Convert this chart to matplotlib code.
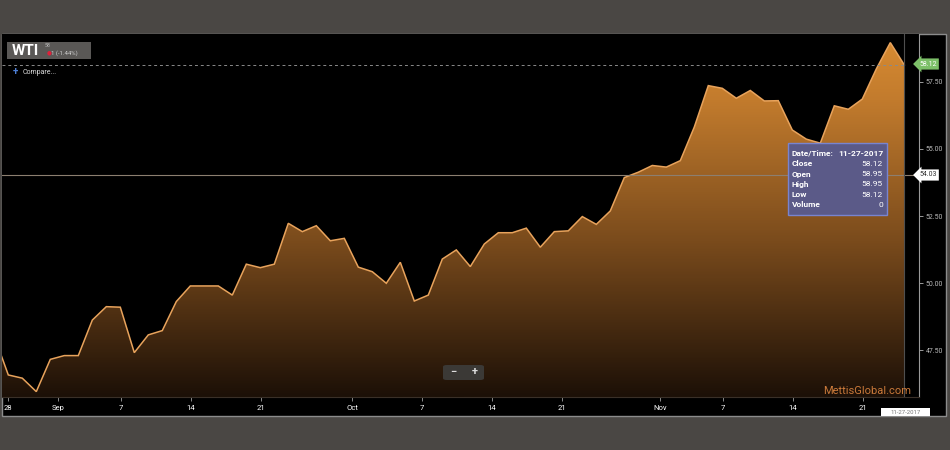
import numpy as np
import pandas as pd
import matplotlib
matplotlib.use("Agg")
import matplotlib.pyplot as plt
from matplotlib.patches import Rectangle, FancyBboxPatch, Polygon
from matplotlib.colors import LinearSegmentedColormap

# ---------------- data ----------------
holidays = ["2017-11-23"]
dates = [d for d in pd.bdate_range("2017-08-25", "2017-11-27") if d.strftime("%Y-%m-%d") not in holidays]
close = [48.03, 46.59, 46.47, 45.97, 47.17, 47.31, 47.31, 48.63, 49.13, 49.11,
         47.42, 48.08, 48.24, 49.32, 49.90, 49.90, 49.90, 49.56, 50.71, 50.58,
         50.71, 52.23, 51.92, 52.14, 51.58, 51.67, 50.60, 50.43, 50.00, 50.78,
         49.34, 49.56, 50.90, 51.24, 50.62, 51.46, 51.88, 51.88, 52.05, 51.34,
         51.92, 51.95, 52.48, 52.19, 52.69, 53.93, 54.13, 54.38, 54.32, 54.56,
         55.81, 57.35, 57.25, 56.88, 57.17, 56.78, 56.79, 55.70, 55.36, 55.21,
         56.60, 56.47, 56.85, 57.97, 58.95, 58.12]
cursor_price = 54.03
xtick_labels = ["28", "Sep", "7", "14", "21", "Oct", "7", "14", "21", "Nov", "7", "14", "21"]
ytick_values = [47.5, 50.0, 52.5, 55.0, 57.5]
tooltip_labels = ["Date/Time:", "Close", "Open", "High", "Low", "Volume"]
tooltip_values = ["11-27-2017", "58.12", "58.95", "58.95", "58.12", "0"]
symbol = "WTI"
symbol_last = "58"
symbol_change = "1 (-1.44%)"

# ---------------- layout helpers ----------------
W, H = 950, 450
plt.rcParams["font.family"] = ["Roboto", "DejaVu Sans"]
fig = plt.figure(figsize=(W / 100, H / 100), dpi=100, facecolor="#4a4744")


def fx(x):
    return x / W


def fy(y):
    return 1 - y / H


# black panel with thin grey frame
fig.add_artist(Rectangle((fx(2), fy(416)), fx(944), (416 - 34) / H, transform=fig.transFigure,
                         facecolor="black", edgecolor="#8c8c8c", linewidth=1.0, zorder=0))

ax = fig.add_axes([fx(2), fy(397), fx(919 - 2), (397 - 34) / H])
ax.set_facecolor("black")

idx = np.arange(len(close))
xmin, xmax = 0.55, 66.05
ymin, ymax = 45.77, 59.27
ax.set_xlim(xmin, xmax)
ax.set_ylim(ymin, ymax)

# gradient fill under the line
cmap = LinearSegmentedColormap.from_list(
    "oil", [(0.0, "#1c1007"), (0.43, "#7a4b1c"), (0.82, "#c27b2d"), (1.0, "#d98c32")])
grad = np.linspace(1, 0, 400).reshape(-1, 1)
im = ax.imshow(grad, cmap=cmap, extent=[xmin, xmax, ymin, ymax], aspect="auto",
               origin="upper", zorder=1, vmin=0, vmax=1)
verts = [(idx[0], ymin)] + list(zip(idx, close)) + [(idx[-1], ymin)]
poly = Polygon(verts, closed=True, facecolor="none", edgecolor="none", transform=ax.transData)
ax.add_patch(poly)
im.set_clip_path(poly)
ax.plot(idx, close, color="#e8a35c", lw=1.1, zorder=3, solid_joinstyle="miter")

# cursor lines
ax.hlines(close[-1], xmin, idx[-1], colors="#8a8a8a", linestyles=(0, (3, 3)), lw=0.7, zorder=4)
ax.axhline(cursor_price, color="#8c7f70", lw=0.8, zorder=4)
ax.axvline(idx[-1], color="#4f4f4f", lw=0.8, zorder=4)

# axes styling
for s in ["left", "top"]:
    ax.spines[s].set_visible(False)
ax.spines["right"].set_color("#9a9a9a")
ax.spines["right"].set_linewidth(0.8)
ax.spines["bottom"].set_color("#3a3028")
ax.spines["bottom"].set_linewidth(0.8)

xtick_pos = [1, 4.57, 9.05, 14.05, 19.05, 25.55, 30.55, 35.55, 40.55, 47.55, 52.05, 57.05, 62.05]
ax.set_xticks(xtick_pos)
ax.set_xticklabels(xtick_labels)
ax.tick_params(axis="x", colors="#8a8a8a", labelcolor="white", labelsize=5.5, length=3, width=0.7, pad=3)
ax.yaxis.tick_right()
ax.set_yticks(ytick_values)
ax.set_yticklabels([f"{v:.2f}" for v in ytick_values])
ax.tick_params(axis="y", colors="#9a9a9a", labelcolor="#b8b8b8", labelsize=5, length=3, width=0.7, pad=2)

# right-side price labels
fig.text(fx(928), fy(64), f"{close[-1]:.2f}", fontsize=5, color="white", ha="center", va="center",
         bbox=dict(boxstyle="larrow,pad=0.3", fc="#7cbf68", ec="none"), zorder=10)
fig.text(fx(928), fy(175), f"{cursor_price:.2f}", fontsize=5, color="#333", ha="center", va="center",
         bbox=dict(boxstyle="larrow,pad=0.3", fc="white", ec="none"), zorder=10)
# date label at bottom
fig.add_artist(Rectangle((fx(880.7), fy(415.7)), fx(49.3), 7.4 / H, transform=fig.transFigure,
                         facecolor="white", edgecolor="none", zorder=10))
fig.text(fx(905.3), fy(412), tooltip_values[0], fontsize=4.3, color="#777", ha="center", va="center", zorder=11)

# symbol box
fig.add_artist(Rectangle((fx(7.3), fy(59.3)), fx(83.4), 17.6 / H, transform=fig.transFigure,
                         facecolor="#5a5856", edgecolor="none", zorder=5))
fig.text(fx(12), fy(51), symbol, fontsize=11, fontweight="bold", color="white", va="center", ha="left", zorder=6)
fig.text(fx(45), fy(45.5), symbol_last, fontsize=3.8, color="#bdbdbd", va="center", ha="left", zorder=6)
fig.text(fx(46.5), fy(53), "\u25cf", fontsize=4, color="#e0203a", va="center", ha="left", zorder=6)
fig.text(fx(51), fy(53), symbol_change, fontsize=4.3, color="#cfcfcf", va="center", ha="left", zorder=6)

# compare
fig.text(fx(13), fy(72), "+", fontsize=7, fontweight="bold", color="#4d7fd6", va="center", ha="left")
fig.text(fx(23), fy(72), "Compare...", fontsize=5, color="#dcdcdc", va="center", ha="left")

# zoom buttons
fig.add_artist(FancyBboxPatch((fx(443), fy(380)), fx(41), 15 / H, boxstyle="round,pad=0,rounding_size=0.004",
                              transform=fig.transFigure, facecolor="#3b3936", edgecolor="none", zorder=6))
fig.text(fx(453), fy(372.5), "\u2212", fontsize=8, fontweight="bold", color="#dddddd", ha="center", va="center", zorder=7)
fig.text(fx(475), fy(372.5), "+", fontsize=8, fontweight="bold", color="#dddddd", ha="center", va="center", zorder=7)

# watermark
fig.text(fx(867), fy(391), "MettisGlobal.com", fontsize=8, color="#c9793a", ha="center", va="center", zorder=7)

# tooltip
fig.add_artist(Rectangle((fx(788.3), fy(215)), fx(98.4), (215 - 143.3) / H, transform=fig.transFigure,
                         facecolor="#5b5a88", edgecolor="#7884d0", linewidth=1.0, zorder=8))
row_y = [153.3, 164, 174.5, 184.5, 194.5, 205]
for lab, val, yy in zip(tooltip_labels, tooltip_values, row_y):
    fig.text(fx(792), fy(yy), lab, fontsize=6, fontweight="bold", color="white", ha="left", va="center", zorder=9)
    fig.text(fx(883), fy(yy), val, fontsize=6, fontweight="bold" if lab == "Date/Time:" else "normal",
             color="white", ha="right", va="center", zorder=9)

fig.savefig("out.png", dpi=100, facecolor=fig.get_facecolor())
